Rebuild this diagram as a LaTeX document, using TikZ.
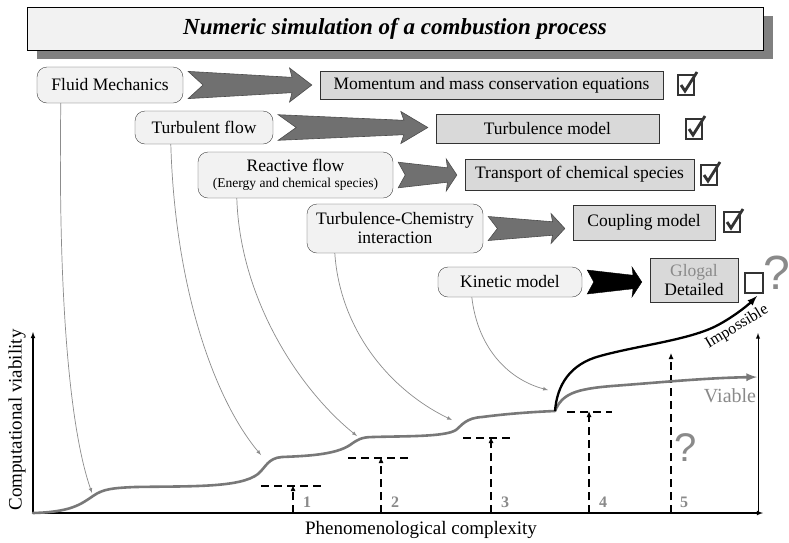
\documentclass[tikz,border=0pt]{standalone}
\usepackage{fontspec}
\setmainfont{Liberation Serif}
\newfontfamily\qfont{Liberation Sans}
\usepackage{tikz}
\usetikzlibrary{calc,arrows.meta}
\tikzset{>=latex}

\definecolor{lightbox}{HTML}{F2F2F2}
\definecolor{modelgray}{HTML}{D9D9D9}
\definecolor{fatgray}{HTML}{707070}
\definecolor{curvegray}{HTML}{787878}
\definecolor{numgray}{HTML}{8A8A8A}

\tikzset{
  phen/.style={draw=black!75,fill=lightbox,rounded corners=10pt,inner sep=0pt,
    align=center,font=\fontsize{17.5}{19}\selectfont},
  modelbox/.style={draw=black!80,fill=modelgray,inner sep=0pt,
    align=center,font=\fontsize{17.5}{19}\selectfont},
  fat/.style={draw=black!70,fill=fatgray,line width=0.6pt},
  thinarrow/.style={->,draw=black!45,line width=0.7pt},
  levelline/.style={dashed,dash pattern=on 8pt off 5pt,line width=1.1pt},
  levelarrow/.style={levelline,-{Latex[length=6pt,width=5pt,sep=-1pt]}},
  numlabel/.style={text=numgray,font=\bfseries\fontsize{16}{16}\selectfont},
  checked/.pic={
    \draw[black!80,line width=2pt] (-8,-10) rectangle (8,10);
    \draw[black!80,line width=2.8pt,line join=miter] (-5,0) -- (-1,6) -- (11,-13);},
  unchecked/.pic={
    \draw[black!80,line width=2pt] (-9,-10) rectangle (9,10);}
}

\newcommand{\fatarrow}[4]{%
  \draw[#1] let \p1=(#2.east), \p2=(#3.west) in
    ({\x1+5pt},{\y1+0.8*#4pt})
 -- ({\x1+5pt+0.84*(\x2-\x1-13pt)},{\y1+0.45*#4pt})
 -- ({\x1+5pt+0.82*(\x2-\x1-13pt)},{\y1+#4pt})
 -- ({\x2-8pt},{\y1})
 -- ({\x1+5pt+0.82*(\x2-\x1-13pt)},{\y1-#4pt})
 -- ({\x1+5pt+0.84*(\x2-\x1-13pt)},{\y1-0.45*#4pt})
 -- ({\x1+5pt},{\y1-0.8*#4pt})
 -- ({\x1+5pt+0.12*(\x2-\x1-13pt)},{\y1})
 -- cycle;}

\begin{document}
\begin{tikzpicture}[x=1pt,y=-1pt]
            \useasboundingbox[fill=white] (0,0) rectangle (789,542);
            \fill[black!50] (37,16) rectangle (773,59);
            \node[draw,fill=lightbox,minimum width=736,minimum height=43,inner sep=0pt,
                  font=\fontsize{23}{25}\selectfont\bfseries\itshape] (title) at (395,28.5)
                  {Numeric simulation of a combustion process};

            \node[phen,minimum width=146,minimum height=36] (fluid) at (110,85) {Fluid Mechanics};
            \node[phen,minimum width=138,minimum height=33] (turb) at (204,127.5) {Turbulent flow};
            \node[phen,minimum width=195,minimum height=46] (react) at (295.5,175)
                  {Reactive flow\\[-3pt]{\fontsize{13.5}{15}\selectfont (Energy and chemical species)}};
            \node[phen,minimum width=176,minimum height=49] (tci) at (395,228.5)
                  {Turbulence-Chemistry\\interaction};
            \node[phen,minimum width=144,minimum height=30] (kin) at (510,282) {Kinetic model};

            \node[modelbox,minimum width=343,minimum height=28] (mom) at (491.5,85)
                  {Momentum and mass conservation equations};
            \node[modelbox,minimum width=223,minimum height=29] (tmod) at (547.5,128.5) {Turbulence model};
            \node[modelbox,minimum width=229,minimum height=31] (trans) at (579.5,174.5)
                  {Transport of chemical species};
            \node[modelbox,minimum width=142,minimum height=35] (coup) at (644,222.5) {Coupling model};
            \node[modelbox,minimum width=88,minimum height=44] (glob) at (694,280)
                  {{\color{numgray}Glogal}\\Detailed};

            \fatarrow{fat}{fluid}{mom}{17}
            \fatarrow{fat}{turb}{tmod}{16}
            \fatarrow{fat}{react}{trans}{16}
            \fatarrow{fat}{tci}{coup}{15}
            \fatarrow{fill=black,draw=black}{kin}{glob}{15}

            \pic at (686,85) {checked};
            \pic at (694,129) {checked};
            \pic at (709,175) {checked};
            \pic at (732,222) {checked};
            \pic at (754,283) {unchecked};
            \node[text=numgray,font=\qfont\fontsize{48}{48}\selectfont] (q1) at (777,273) {?};

            % axes
            \coordinate (o) at (33,513);
            \coordinate (ytop) at (33,332);
            \coordinate (xend) at (763,513);
            \coordinate (rbot) at (758,513);
            \coordinate (rtop) at (758,333);
            \draw[->,line width=1.1pt] (o) -- (ytop);
            \draw[->,line width=1.1pt] (o) -- (xend);
            \draw[->,line width=0.9pt] (rbot) -- (rtop);
            \node[rotate=90,font=\fontsize{19}{21}\selectfont] (ylab) at (17,420) {Computational viability};
            \node[font=\fontsize{19}{21}\selectfont] (xlab) at (421,530) {Phenomenological complexity};

            % levels
            \foreach \i/\x/\y/\a/\b in {1/293/486/261/322,2/381/458/348/410,3/491/438/463/513,4/589/412/567/612}{
                \coordinate (b\i) at (\x,513);
                \coordinate (t\i) at (\x,\y);
                \draw[levelline] (\a,\y) -- (\b,\y);
                \draw[levelarrow] (b\i) -- (t\i);
                \node[numlabel] (n\i) at (\x+14,502) {\i};
            }
            \coordinate (b5) at (671,513);
            \coordinate (t5) at (671,354);
            \draw[levelarrow] (b5) -- (t5);
            \node[numlabel] (n5) at (684,502) {5};
            \node[text=numgray,font=\qfont\fontsize{40}{40}\selectfont] (q2) at (686,448) {?};

            % curves
            \coordinate (split) at (555,411);
            \draw[curvegray,line width=2.6pt,line cap=round] (o)
                .. controls (70,512) and (80,505) .. (93,496)
                .. controls (103,489) and (112,488) .. (135,487)
                .. controls (190,486) and (240,488) .. (258,474)
                .. controls (266,467) and (268,458) .. (282,457)
                .. controls (305,456) and (335,455) .. (350,445)
                .. controls (357,440) and (361,437) .. (373,437)
                .. controls (405,436) and (445,437) .. (456,430)
                .. controls (462,425) and (466,418) .. (482,417)
                .. controls (505,414) and (530,412) .. (split);
            \coordinate (vend) at (757,377);
            \coordinate (iend) at (757,296);
            \draw[->,curvegray,line width=2.6pt] (split)
                .. controls (562,394) and (575,389) .. (612,386)
                .. controls (665,382) and (705,378) .. (vend);
            \draw[->,line width=2.3pt] (split)
                .. controls (557,385) and (570,364) .. (600,356)
                .. controls (640,345) and (690,340) .. (718,325)
                .. controls (733,317) and (747,306) .. (iend);
            \node[text=numgray,font=\fontsize{20}{22}\selectfont] (viab) at (730,396) {Viable};
            \node[rotate=31,font=\fontsize{16}{18}\selectfont] (imp) at (737,327) {Impossible};

            % links
            \coordinate (e1) at (92,493);
            \coordinate (e2) at (261,455);
            \coordinate (e3) at (357,436);
            \coordinate (e4) at (452,420);
            \coordinate (e5) at (548,390);
            \draw[thinarrow] ([xshift=24pt]fluid.south west) .. controls (58,300) and (70,430) .. (e1);
            \draw[thinarrow] ([xshift=36pt]turb.south west) .. controls (175,290) and (215,400) .. (e2);
            \draw[thinarrow] ([xshift=39pt]react.south west) .. controls (240,300) and (300,390) .. (e3);
            \draw[thinarrow] ([xshift=28pt]tci.south west) .. controls (340,330) and (390,390) .. (e4);
            \draw[thinarrow] ([xshift=34pt]kin.south west) .. controls (478,350) and (510,380) .. (e5);
        \end{tikzpicture}
\end{document}
